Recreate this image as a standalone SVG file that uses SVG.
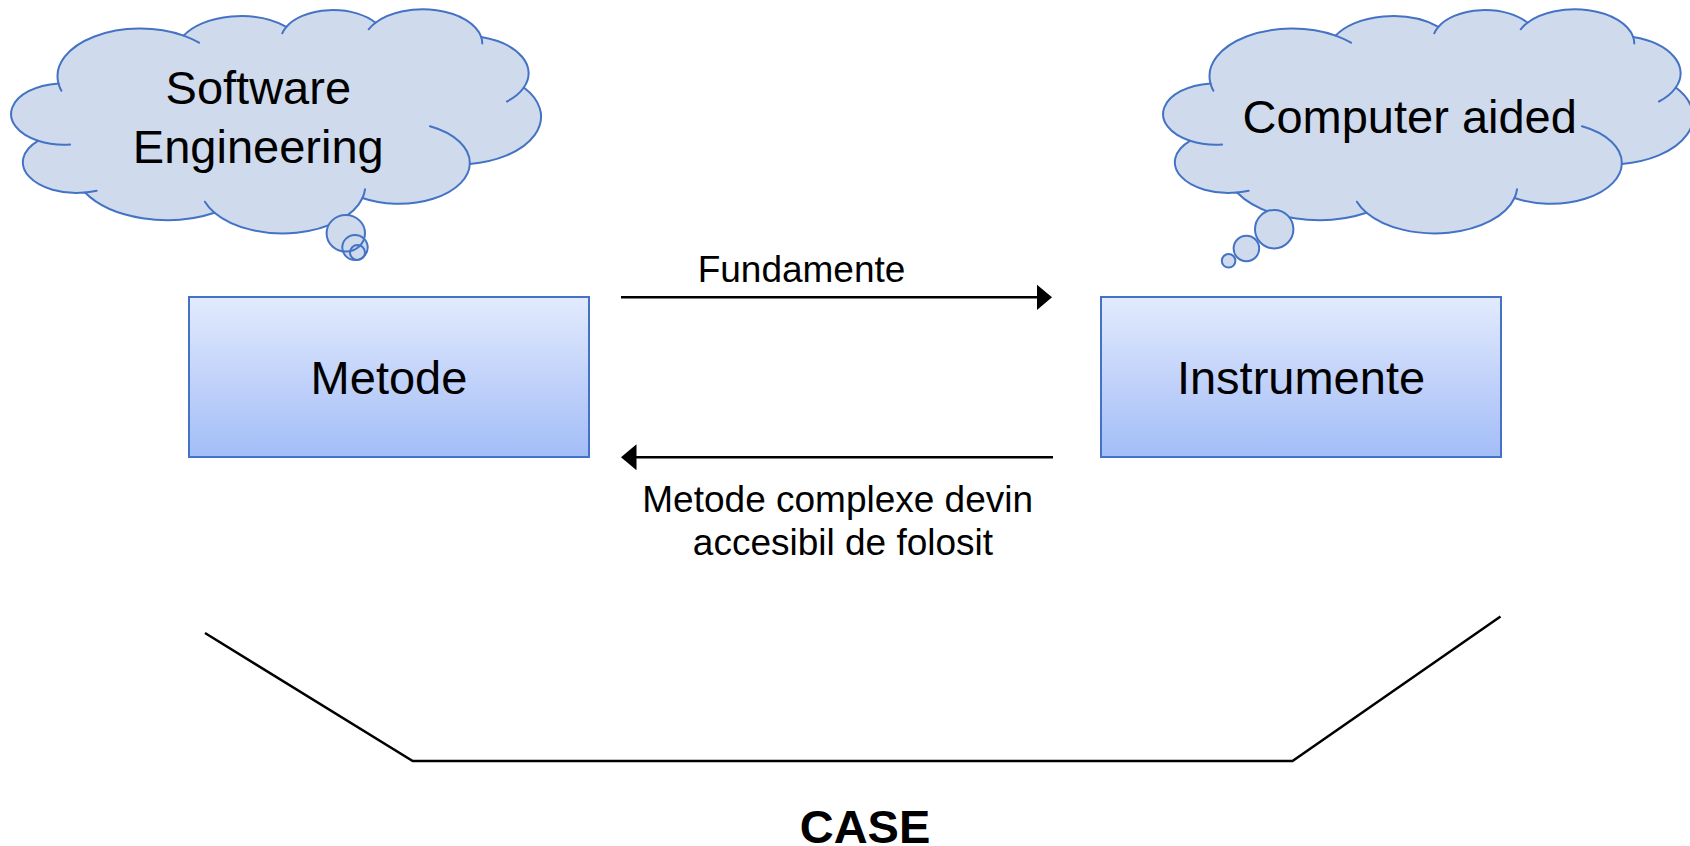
<svg xmlns="http://www.w3.org/2000/svg" xmlns:xlink="http://www.w3.org/1999/xlink" width="1690" height="846" viewBox="0 0 1690 846">
  <style>
    text { font-family: "Liberation Sans", Arial, sans-serif; fill: #000000; }
    .big { font-size: 47px; text-anchor: middle; }
    .lbl { font-size: 37px; text-anchor: middle; }
    .title { font-size: 47px; font-weight: bold; text-anchor: middle; }
    .cloud { fill: #CFDBEC; stroke: #4472C4; stroke-width: 2; stroke-linejoin: round; }
    .vein { fill: none; stroke: #4472C4; stroke-width: 2; stroke-linecap: round; }
    .bubble-fill { fill: #CFDBEC; stroke: none; }
    .bubble-line { fill: none; stroke: #4472C4; stroke-width: 2; }
    .box { fill: url(#boxGrad); stroke: #4472C4; stroke-width: 2; }
    .conn { fill: none; stroke: #000000; stroke-width: 2.5; }
  </style>
  <defs>
    <linearGradient id="boxGrad" x1="0" y1="0" x2="0" y2="1">
      <stop offset="0" stop-color="#E2EAFD"/>
      <stop offset="1" stop-color="#A3BDF7"/>
    </linearGradient>
    <marker id="arrowHead" markerUnits="userSpaceOnUse" markerWidth="16" markerHeight="28" viewBox="0 0 16 28" refX="1" refY="14" orient="auto">
      <path d="M0,1 L15.5,14 L0,27 Z" fill="#000000"/>
    </marker>
    <!-- cloud outline built from eleven elliptical lobes, plus the short inner lobe arcs -->
    <g id="cloudShape">
      <path class="cloud" d="M38,140.8
        A53.2 30.8 0 0 1 58.5,83.4
        A82.7 47.6 0 0 1 183.6,35.6
        A65.3 37.7 0 0 1 286.4,26.8
        A52 30 0 0 1 375.5,22.7
        A59.5 34.2 0 0 1 481.2,37
        A65.3 37.7 0 0 1 523.8,87.5
        A83 47.8 0 0 1 469.8,164
        A70.8 40.8 0 0 1 362.5,198
        A82.7 47.8 0 0 1 214.5,212.7
        A94.5 54.7 0 0 1 85,192.5
        A53.4 30.7 0 0 1 38,140.8 Z"/>
      <path class="vein" d="M58.5,83.4 A82.7 47.6 0 0 0 61.4,90.7
        M183.6,35.6 A82.7 47.6 0 0 1 199,42.7
        M286.4,26.8 A52 30 0 0 0 282.3,33.3
        M375.5,22.7 A59.5 34.2 0 0 0 368.7,29.3
        M481.2,37 A59.5 34.2 0 0 1 482.3,43.5
        M523.8,87.5 A65.3 37.7 0 0 1 507,101.5
        M469.8,164 A70.8 40.8 0 0 0 430,126.3
        M362.5,198 A82.7 47.8 0 0 0 365,189.3
        M214.5,212.7 A82.7 47.8 0 0 1 204.9,201.7
        M85,192.5 A53.4 30.7 0 0 0 96.7,190.7
        M38,140.8 A53.2 30.8 0 0 0 70,144.6"/>
    </g>
  </defs>

  <rect width="1690" height="846" fill="#FFFFFF"/>

  <!-- thought cloud: Software Engineering -->
  <g id="cloud-software-engineering">
    <use xlink:href="#cloudShape" href="#cloudShape"/>
    <ellipse class="bubble-fill" cx="345.8" cy="233.3" rx="19.2" ry="18.3"/>
    <ellipse class="bubble-fill" cx="355" cy="247.5" rx="12.7" ry="12.5"/>
    <ellipse class="bubble-fill" cx="357.5" cy="252.5" rx="7.5" ry="7.5"/>
    <ellipse class="bubble-line" cx="345.8" cy="233.3" rx="19.2" ry="18.3"/>
    <ellipse class="bubble-line" cx="355" cy="247.5" rx="12.7" ry="12.5"/>
    <ellipse class="bubble-line" cx="357.5" cy="252.5" rx="7.5" ry="7.5"/>
    <text class="big" x="258.3" y="104">Software</text>
    <text class="big" x="258.3" y="163">Engineering</text>
  </g>

  <!-- thought cloud: Computer aided -->
  <g id="cloud-computer-aided">
    <use xlink:href="#cloudShape" href="#cloudShape" transform="translate(1152,0)"/>
    <circle class="bubble-fill" cx="1274.2" cy="229.2" r="19.2"/>
    <circle class="bubble-fill" cx="1246.4" cy="248.5" r="12.8"/>
    <circle class="bubble-fill" cx="1228.6" cy="260.8" r="6.8"/>
    <circle class="bubble-line" cx="1274.2" cy="229.2" r="19.2"/>
    <circle class="bubble-line" cx="1246.4" cy="248.5" r="12.8"/>
    <circle class="bubble-line" cx="1228.6" cy="260.8" r="6.8"/>
    <text class="big" x="1409.7" y="133.3">Computer aided</text>
  </g>

  <!-- process boxes -->
  <g id="node-metode">
    <rect class="box" x="189" y="297" width="400" height="160"/>
    <text class="big" x="389" y="394">Metode</text>
  </g>
  <g id="node-instrumente">
    <rect class="box" x="1101" y="297" width="400" height="160"/>
    <text class="big" x="1301" y="394">Instrumente</text>
  </g>

  <!-- connectors between the boxes -->
  <g id="connectors">
    <line class="conn" x1="621" y1="297.3" x2="1037.5" y2="297.3" marker-end="url(#arrowHead)"/>
    <text class="lbl" x="801.5" y="282">Fundamente</text>
    <line class="conn" x1="1053" y1="457.3" x2="635.5" y2="457.3" marker-end="url(#arrowHead)"/>
    <text class="lbl"><tspan x="837.7" y="512">Metode complexe devin</tspan><tspan x="843" y="555">accesibil de folosit</tspan></text>
  </g>

  <!-- CASE bracket underneath -->
  <g id="case-bracket">
    <polyline class="conn" points="205,633 412.7,761 1292.5,761 1500.5,616.5" stroke-linejoin="miter"/>
    <text class="title" x="865" y="843">CASE</text>
  </g>
</svg>
